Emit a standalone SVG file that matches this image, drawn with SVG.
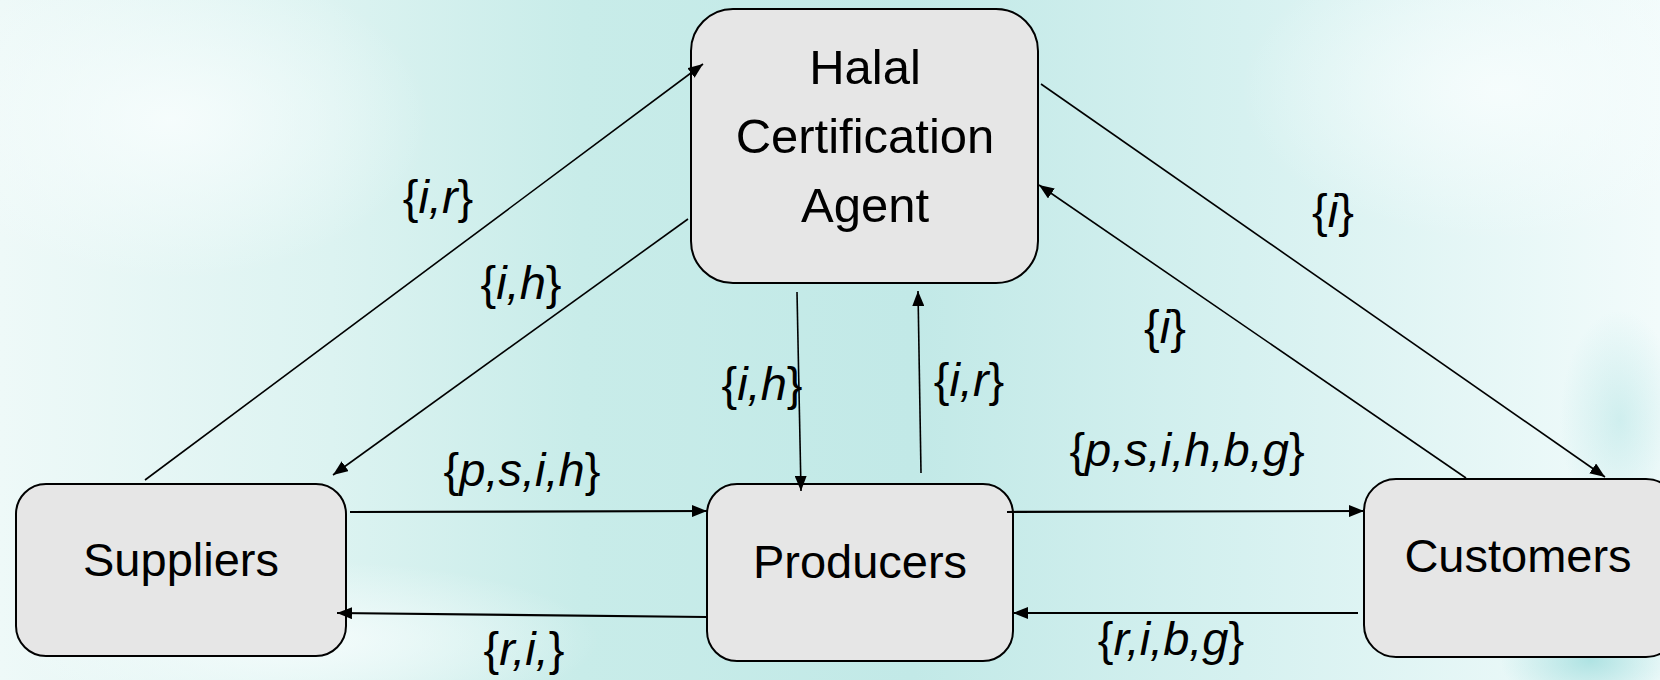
<svg xmlns="http://www.w3.org/2000/svg" width="1660" height="680" viewBox="0 0 1660 680">
  <defs>
    <linearGradient id="bg" x1="0" y1="0" x2="1" y2="0">
      <stop offset="0" stop-color="#eef9f8"/>
      <stop offset="0.2" stop-color="#dcf3f1"/>
      <stop offset="0.35" stop-color="#c8ece9"/>
      <stop offset="0.55" stop-color="#c2e9e7"/>
      <stop offset="0.75" stop-color="#d6f1f0"/>
      <stop offset="1" stop-color="#f2fbfb"/>
    </linearGradient>
    <radialGradient id="spot1" cx="0.5" cy="0.5" r="0.5">
      <stop offset="0" stop-color="#f7fdfd" stop-opacity="0.9"/>
      <stop offset="1" stop-color="#f7fdfd" stop-opacity="0"/>
    </radialGradient>
    <radialGradient id="spot2" cx="0.5" cy="0.5" r="0.5">
      <stop offset="0" stop-color="#9fdddd" stop-opacity="0.8"/>
      <stop offset="1" stop-color="#9fdddd" stop-opacity="0"/>
    </radialGradient>
    <marker id="arr" viewBox="0 0 15 12" refX="15" refY="6" markerWidth="15" markerHeight="12" markerUnits="userSpaceOnUse" orient="auto">
      <path d="M0,0 L15,6 L0,12 Z" fill="#000"/>
    </marker>
    <style>
      .box { fill: #e6e6e6; stroke: #000; stroke-width: 2; }
      .name { font-family: "Liberation Sans", Arial, sans-serif; font-size: 47px; fill: #000; text-anchor: middle; }
      .big { font-size: 49px; }
      .lbl { font-family: "Liberation Sans", Arial, sans-serif; font-size: 47px; fill: #000; text-anchor: middle; }
      .it { font-style: italic; }
      .conn { stroke: #000; stroke-width: 1.6; fill: none; marker-end: url(#arr); }
      .conn2 { stroke: #000; stroke-width: 2.2; fill: none; marker-end: url(#arr); }
    </style>
  </defs>

  <rect x="0" y="0" width="1660" height="680" fill="url(#bg)"/>
  <ellipse cx="170" cy="120" rx="260" ry="160" fill="url(#spot1)"/>
  <ellipse cx="1500" cy="90" rx="260" ry="150" fill="url(#spot1)"/>
  <ellipse cx="300" cy="640" rx="300" ry="80" fill="url(#spot1)"/>
  <ellipse cx="1590" cy="660" rx="90" ry="50" fill="url(#spot2)"/>
  <ellipse cx="1620" cy="420" rx="60" ry="110" fill="url(#spot2)" opacity="0.5"/>

  <g id="halal">
    <rect class="box" x="691" y="9" width="347" height="274" rx="42" ry="42"/>
    <text class="name big" x="865" y="84">Halal</text>
    <text class="name big" x="865" y="153">Certification</text>
    <text class="name big" x="865" y="222">Agent</text>
  </g>
  <g id="suppliers">
    <rect class="box" x="16" y="484" width="330" height="172" rx="30" ry="30"/>
    <text class="name" x="181" y="576">Suppliers</text>
  </g>
  <g id="producers">
    <rect class="box" x="707" y="484" width="306" height="177" rx="30" ry="30"/>
    <text class="name" x="860" y="578">Producers</text>
  </g>
  <g id="customers">
    <rect class="box" x="1364" y="479" width="314" height="178" rx="32" ry="32"/>
    <text class="name" x="1518" y="572">Customers</text>
  </g>

  <g id="connectors">
    <line class="conn" x1="145" y1="480" x2="703" y2="64"/>
    <line class="conn" x1="688" y1="219" x2="333" y2="475"/>
    <line class="conn" x1="797" y1="292" x2="801" y2="491"/>
    <line class="conn" x1="921" y1="473" x2="918" y2="291"/>
    <line class="conn" x1="1041" y1="84" x2="1605" y2="477"/>
    <line class="conn" x1="1466" y1="478" x2="1039" y2="185"/>
    <line class="conn2" x1="350" y1="512" x2="707" y2="511"/>
    <line class="conn2" x1="706" y1="617" x2="337" y2="613"/>
    <line class="conn2" x1="1007" y1="512" x2="1364" y2="511"/>
    <line class="conn2" x1="1358" y1="613" x2="1013" y2="613"/>
  </g>

  <g id="labels">
    <text class="lbl" x="438" y="213">{<tspan class="it">i,r</tspan>}</text>
    <text class="lbl" x="521" y="299">{<tspan class="it">i,h</tspan>}</text>
    <text class="lbl" x="762" y="400">{<tspan class="it">i,h</tspan>}</text>
    <text class="lbl" x="969" y="396">{<tspan class="it">i,r</tspan>}</text>
    <text class="lbl" x="1333" y="227">{<tspan class="it">i</tspan>}</text>
    <text class="lbl" x="1165" y="343">{<tspan class="it">i</tspan>}</text>
    <text class="lbl" x="1187" y="466">{<tspan class="it">p,s,i,h,b,g</tspan>}</text>
    <text class="lbl" x="522" y="486">{<tspan class="it">p,s,i,h</tspan>}</text>
    <text class="lbl" x="524" y="665">{<tspan class="it">r,i,</tspan>}</text>
    <text class="lbl" x="1171" y="655">{<tspan class="it">r,i,b,g</tspan>}</text>
  </g>
</svg>
